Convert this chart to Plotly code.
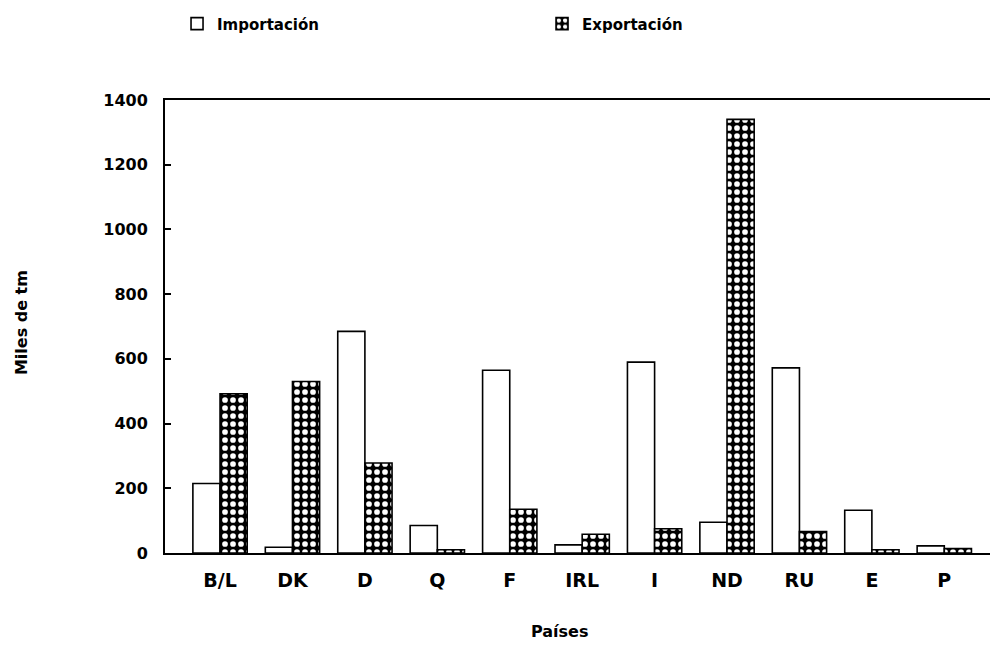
import plotly.graph_objects as go

paises = ["B/L", "DK", "D", "Q", "F", "IRL", "I", "ND", "RU", "E", "P"]
importacion = [215, 18, 685, 85, 565, 25, 590, 95, 572, 132, 22]
exportacion = [492, 530, 278, 10, 135, 58, 75, 1340, 66, 10, 14]
y_ticks = [0, 200, 400, 600, 800, 1000, 1200, 1400]

FONT = "DejaVu Sans"

fig = go.Figure()
fig.add_trace(go.Bar(
    x=paises, y=importacion, name="Importación",
    marker=dict(color="white", line=dict(color="black", width=1.6)),
))
fig.add_trace(go.Bar(
    x=paises, y=exportacion, name="Exportación",
    marker=dict(color="black", line=dict(color="black", width=1.6),
                pattern=dict(shape=".", fgcolor="white", bgcolor="black",
                             fgopacity=1, size=8, solidity=0.4)),
))

# The page places the figure 8px from the top-left corner, so the figure is
# 990x639 and margins are chosen so the plot area lands where the reference has it.
fig.update_layout(
    width=990, height=639,
    margin=dict(l=157, r=3, t=92, b=94, autoexpand=False),
    paper_bgcolor="white", plot_bgcolor="white",
    barmode="group", bargap=0.25, bargroupgap=0.0,
    font=dict(family=FONT, color="black", size=15, weight="bold"),
    showlegend=True,
    legend=dict(orientation="h", x=0.0145, xanchor="left", y=1.168, yanchor="middle",
                font=dict(size=15, weight="bold"), entrywidth=320,
                bgcolor="rgba(0,0,0,0)"),
    annotations=[
        dict(text="Miles de tm", xref="paper", yref="paper", x=-0.172, y=0.508,
             textangle=-90, showarrow=False, font=dict(size=16, weight="bold"),
             xanchor="center", yanchor="middle"),
        dict(text="Países", xref="paper", yref="paper", x=0.475, y=-0.174,
             showarrow=False, font=dict(size=16, weight="bold"),
             xanchor="center", yanchor="middle"),
    ],
)

fig.update_xaxes(
    type="category", range=[-0.76, 10.70],
    showline=True, linecolor="black", linewidth=2, mirror=True,
    ticks="", showgrid=False, zeroline=False,
    tickfont=dict(size=19, weight="bold"), ticklabelstandoff=9,
)
fig.update_yaxes(
    range=[0, 1400], tickvals=y_ticks,
    showline=True, linecolor="black", linewidth=2, mirror=False,
    ticks="inside", ticklen=6, tickwidth=1.5, tickcolor="black",
    showgrid=False, zeroline=False,
    tickfont=dict(size=16, weight="bold"), ticklabelstandoff=12,
)

fig.write_html("out.html")
